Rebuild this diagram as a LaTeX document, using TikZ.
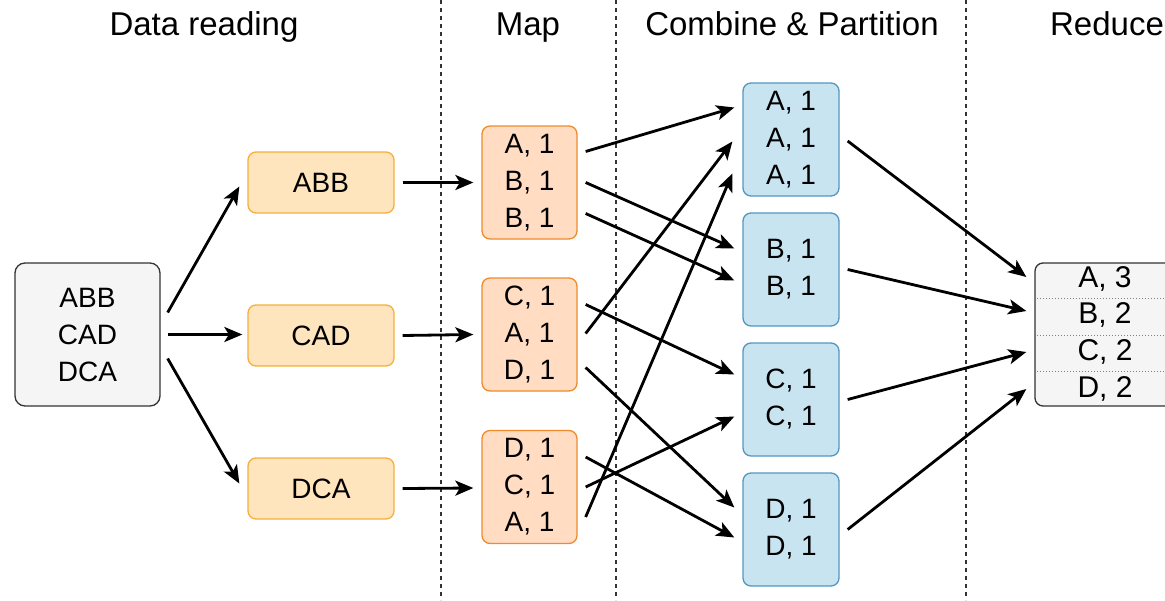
\documentclass[tikz,border=0pt]{standalone}
\usepackage{fontspec}
\setmainfont{Liberation Sans}
\usetikzlibrary{arrows.meta}
\definecolor{grayfill}{HTML}{F5F5F5}
\definecolor{graydraw}{HTML}{333333}
\definecolor{datafill}{HTML}{FFE5BD}
\definecolor{datadraw}{HTML}{F5AF3C}
\definecolor{mapfill}{HTML}{FFDCC2}
\definecolor{mapdraw}{HTML}{F08A2C}
\definecolor{combfill}{HTML}{C9E4F1}
\definecolor{combdraw}{HTML}{5396C1}
\begin{document}
\begin{tikzpicture}[x=1pt,y=-1pt,
  base/.style={rounded corners=8pt, inner sep=0pt, align=center, font=\fontsize{28}{37}\selectfont, line width=1.3pt},
  inputbox/.style={base, fill=grayfill, draw=graydraw, minimum width=145pt, minimum height=143pt, rounded corners=10pt},
  databox/.style={base, fill=datafill, draw=datadraw, minimum width=146pt, minimum height=61pt},
  mapbox/.style={base, fill=mapfill, draw=mapdraw, minimum width=95pt, minimum height=113pt},
  combbox/.style={base, fill=combfill, draw=combdraw, minimum width=96pt, minimum height=113pt},
  redbox/.style={base, fill=grayfill, draw=graydraw, minimum width=140pt, minimum height=143pt},
  header/.style={font=\fontsize{33}{40}\selectfont, inner sep=0pt, anchor=base},
  cell/.style={font=\fontsize{30}{37}\selectfont, inner sep=0pt, anchor=base},
  sep/.style={draw=graydraw, line width=1.2pt, dash pattern=on 4pt off 4pt},
  dotsep/.style={draw=gray, line width=0.9pt, dash pattern=on 1pt off 2pt},
  arr/.style={draw=black, line width=2.8pt, -{Stealth[length=18pt,width=15pt,inset=4.5pt]}}
]
\useasboundingbox (0,0) rectangle (1165,600);

% column separators
\draw[sep] (441,0) -- (441,600);
\draw[sep] (616,0) -- (616,600);
\draw[sep] (966,0) -- (966,600);

% headers
\node[header] (h1) at (204,35) {Data reading};
\node[header] (h2) at (528,35) {Map};
\node[header] (h3) at (792,35) {Combine \& Partition};
\node[header] (h4) at (1107,35) {Reduce};

% input
\node[inputbox] (src) at (87.5,334.5) {ABB\\CAD\\DCA};

% data reading
\node[databox] (d1) at (321,182.5) {ABB};
\node[databox] (d2) at (321,335.5) {CAD};
\node[databox] (d3) at (321,488.5) {DCA};

% map
\node[mapbox] (m1) at (529.5,182.5) {A, 1\\B, 1\\B, 1};
\node[mapbox] (m2) at (529.5,334.5) {C, 1\\A, 1\\D, 1};
\node[mapbox] (m3) at (529.5,487) {D, 1\\C, 1\\A, 1};

% combine
\node[combbox] (c1) at (791,139.5) {A, 1\\A, 1\\A, 1};
\node[combbox] (c2) at (791,269.5) {B, 1\\B, 1};
\node[combbox] (c3) at (791,399.5) {C, 1\\C, 1};
\node[combbox] (c4) at (791,529.5) {D, 1\\D, 1};

% reduce
\node[redbox] (r) at (1105,334.5) {};
\draw[dotsep] (r.west |- 0,298) -- (r.east |- 0,298);
\draw[dotsep] (r.west |- 0,335) -- (r.east |- 0,335);
\draw[dotsep] (r.west |- 0,371) -- (r.east |- 0,371);
\node[cell] (r1) at (1105,287) {A, 3};
\node[cell] (r2) at (1105,323.5) {B, 2};
\node[cell] (r3) at (1105,360) {C, 2};
\node[cell] (r4) at (1105,397) {D, 2};

% input -> data reading
\draw[arr] ([shift={(7,-22)}]src.east) -- ([shift={(-8,4)}]d1.west);
\draw[arr] ([shift={(7,0)}]src.east) -- ([shift={(-5,-1)}]d2.west);
\draw[arr] ([shift={(7,24)}]src.east) -- ([shift={(-8,-5)}]d3.west);

% data reading -> map
\draw[arr] ([shift={(8,0)}]d1.east) -- ([shift={(-8,0)}]m1.west);
\draw[arr] ([shift={(8,0)}]d2.east) -- ([shift={(-8,0)}]m2.west);
\draw[arr] ([shift={(8,0)}]d3.east) -- ([shift={(-8,1)}]m3.west);

% map -> combine
\draw[arr] ([shift={(8,-31)}]m1.east) -- ([shift={(-8,-32)}]c1.west);
\draw[arr] ([shift={(8,0)}]m1.east) -- ([shift={(-8,-21)}]c2.west);
\draw[arr] ([shift={(8,31)}]m1.east) -- ([shift={(-8,11)}]c2.west);
\draw[arr] ([shift={(8,-30)}]m2.east) -- ([shift={(-8,-25)}]c3.west);
\draw[arr] ([shift={(8,-1)}]m2.east) -- ([shift={(-10,2)}]c1.west);
\draw[arr] ([shift={(8,33)}]m2.east) -- ([shift={(-8,-22)}]c4.west);
\draw[arr] ([shift={(8,-30)}]m3.east) -- ([shift={(-8,8)}]c4.west);
\draw[arr] ([shift={(8,0)}]m3.east) -- ([shift={(-8,17)}]c3.west);
\draw[arr] ([shift={(8,30)}]m3.east) -- ([shift={(-10,34)}]c1.west);

% combine -> reduce
\draw[arr] ([shift={(8,1.5)}]c1.east) -- ([shift={(-8,-57.5)}]r.west);
\draw[arr] ([shift={(8,0)}]c2.east) -- ([shift={(-8,-23.5)}]r.west);
\draw[arr] ([shift={(8,0)}]c3.east) -- ([shift={(-8,17.5)}]r.west);
\draw[arr] ([shift={(8,0)}]c4.east) -- ([shift={(-8,54.5)}]r.west);
\end{tikzpicture}
\end{document}
